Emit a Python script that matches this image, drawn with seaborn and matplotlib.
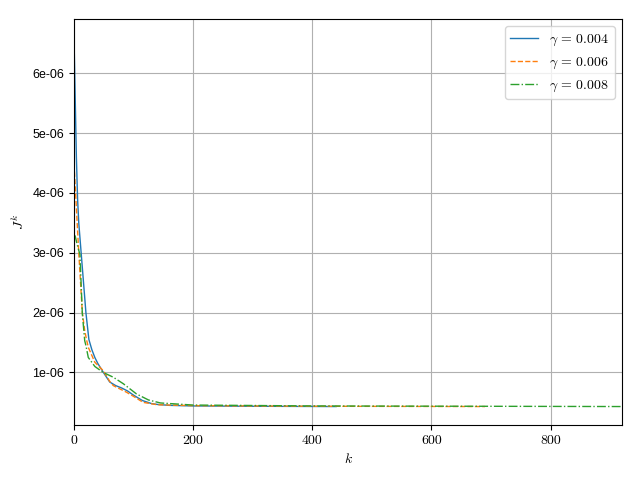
import matplotlib
matplotlib.use("Agg")
import matplotlib.pyplot as plt
import seaborn as sns
import pandas as pd
from matplotlib.ticker import FuncFormatter

# gamma = 0.004
k_004 = [0, 2, 4, 6, 8, 12, 16, 20, 25, 30, 35, 40, 50, 60, 70, 80, 90, 100, 115, 130, 140, 160, 200, 300, 440]
J_004 = [6.6, 5.6, 4.6, 3.9, 3.5, 3.0, 2.5, 2.0, 1.55, 1.38, 1.25, 1.15, 0.99, 0.84, 0.78, 0.74, 0.69,
         0.62, 0.53, 0.48, 0.465, 0.45, 0.44, 0.435, 0.43]
# gamma = 0.006
k_006 = [0, 3, 8, 14, 18, 21, 24, 35, 49, 60, 66, 88, 100, 116, 140, 200, 400, 690]
J_006 = [4.48, 3.94, 3.0, 2.0, 1.7, 1.55, 1.42, 1.17, 1.03, 0.85, 0.78, 0.67, 0.60, 0.50, 0.46, 0.445, 0.435, 0.43]
# gamma = 0.008
k_008 = [0, 2, 5, 10, 14, 18, 20, 24, 35, 49, 66, 83, 105, 125, 145, 200, 400, 920]
J_008 = [3.3, 3.28, 3.15, 2.97, 1.98, 1.53, 1.45, 1.25, 1.1, 1.0, 0.92, 0.81, 0.64, 0.54, 0.49, 0.455, 0.44, 0.43]

labels = [r"$\gamma\,=\,0.004$", r"$\gamma\,=\,0.006$", r"$\gamma\,=\,0.008$"]
series = [(k_004, J_004), (k_006, J_006), (k_008, J_008)]
styles = ["-", "--", "-."]
colors = sns.color_palette("tab10")[:3]

plt.rcParams["mathtext.fontset"] = "cm"

fig = plt.figure(figsize=(6.4, 4.8), dpi=100)
ax = fig.add_axes([74/640, 1-425/480, (622-74)/640, (425-19)/480])

for (k, J), lab, ls, c in zip(series, labels, styles, colors):
    df = pd.DataFrame({"k": k, "J": [v * 1e-6 for v in J]})
    sns.lineplot(data=df, x="k", y="J", ax=ax, label=lab, color=c, linestyle=ls, linewidth=1.0)

ax.set_xlim(0, max(k_008))
ax.grid(True)
ax.set_axisbelow(True)
ax.set_xlabel(r"$k$", fontsize=10)
ax.set_ylabel(r"$J^k$", fontsize=10)
ax.yaxis.set_major_formatter(FuncFormatter(lambda v, p: "%g" % v))
for t in ax.get_xticklabels():
    t.set_fontfamily("cmr10")
    t.set_fontsize(10)
for t in ax.get_yticklabels():
    t.set_fontfamily("Liberation Sans")
    t.set_fontsize(9)
ax.legend(loc="upper right", fontsize=10)
fig.savefig("out.png", dpi=100)
